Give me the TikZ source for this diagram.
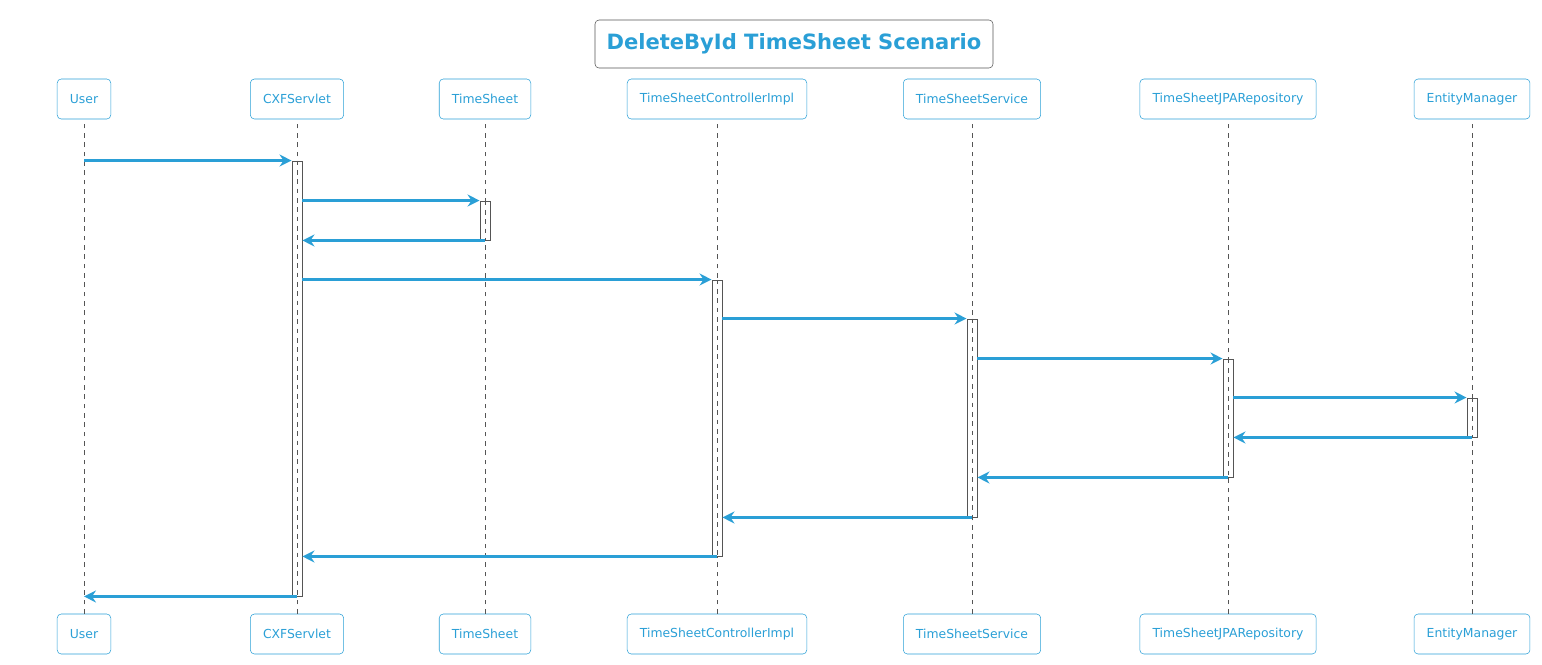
\documentclass[tikz,border=0pt]{standalone}
\usepackage{fontspec}
\setmainfont{DejaVu Sans}
\usetikzlibrary{arrows.meta,fit}
\definecolor{umlblue}{HTML}{2A9FD6}
\definecolor{bargray}{HTML}{555555}
\tikzset{
	actor/.style={draw=umlblue, text=umlblue, rounded corners=3pt, minimum height=30pt, inner xsep=9.5pt, font=\fontsize{9.3}{11}\selectfont},
	titlebox/.style={draw=bargray, text=umlblue, rounded corners=3pt, minimum width=298.5pt, minimum height=36pt, font=\fontsize{15.8}{18}\selectfont\bfseries},
	life/.style={draw=bargray, line width=0.6pt, dash pattern=on 3.5pt off 3.5pt},
	bar/.style={draw=bargray, fill=white, line width=0.7pt, inner sep=0pt},
	msg/.style={draw=umlblue, line width=2.2pt, -{Stealth[length=9pt,width=9pt,inset=3pt]}},
}
\begin{document}
		\begin{tikzpicture}[x=0.75pt, y=-0.75pt]
			\useasboundingbox (0,0) rectangle (1542,664);
			\node (Ti) at (794,44) [titlebox] {DeleteById TimeSheet Scenario};
			% participants, top and bottom
			\node (Us) at (84,99) [actor] {User};
			\node (Cx) at (297,99) [actor] {CXFServlet};
			\node (Ts) at (485,99) [actor] {TimeSheet};
			\node (Ct) at (717,99) [actor] {TimeSheetControllerImpl};
			\node (Sv) at (972,99) [actor] {TimeSheetService};
			\node (Jr) at (1228,99) [actor] {TimeSheetJPARepository};
			\node (Em) at (1472,99) [actor] {EntityManager};
			\node (Us2) at (84,634) [actor] {User} edge [life] (Us);
			\node (Cx2) at (297,634) [actor] {CXFServlet} edge [life] (Cx);
			\node (Ts2) at (485,634) [actor] {TimeSheet} edge [life] (Ts);
			\node (Ct2) at (717,634) [actor] {TimeSheetControllerImpl} edge [life] (Ct);
			\node (Sv2) at (972,634) [actor] {TimeSheetService} edge [life] (Sv);
			\node (Jr2) at (1228,634) [actor] {TimeSheetJPARepository} edge [life] (Jr);
			\node (Em2) at (1472,634) [actor] {EntityManager} edge [life] (Em);
			% activations
			\node (aCx) [bar, fit={(292,161) (302,596)}] {};
			\node (aTs) [bar, fit={(480,201) (490,240)}] {};
			\node (aCt) [bar, fit={(712,280) (722,556)}] {};
			\node (aSv) [bar, fit={(967,319) (977,517)}] {};
			\node (aJr) [bar, fit={(1223,359) (1233,477)}] {};
			\node (aEm) [bar, fit={(1467,398) (1477,437)}] {};
			\draw[life] (aCx.north) -- (aCx.south);
			\draw[life] (aTs.north) -- (aTs.south);
			\draw[life] (aCt.north) -- (aCt.south);
			\draw[life] (aSv.north) -- (aSv.south);
			\draw[life] (aJr.north) -- (aJr.south);
			\draw[life] (aEm.north) -- (aEm.south);
			% messages
			\draw[msg] (Us |- aCx.north) -- (aCx.north west);
			\draw[msg] (aCx.east |- aTs.north) -- (aTs.north west);
			\draw[msg] (Ts |- aTs.south) -- (aCx.east |- aTs.south);
			\draw[msg] (aCx.east |- aCt.north) -- (aCt.north west);
			\draw[msg] (aCt.east |- aSv.north) -- (aSv.north west);
			\draw[msg] (aSv.east |- aJr.north) -- (aJr.north west);
			\draw[msg] (aJr.east |- aEm.north) -- (aEm.north west);
			\draw[msg] (Em |- aEm.south) -- (aJr.east |- aEm.south);
			\draw[msg] (Jr |- aJr.south) -- (aSv.east |- aJr.south);
			\draw[msg] (Sv |- aSv.south) -- (aCt.east |- aSv.south);
			\draw[msg] (Ct |- aCt.south) -- (aCx.east |- aCt.south);
			\draw[msg] (Cx |- aCx.south) -- (Us |- aCx.south);
		\end{tikzpicture}
\end{document}
